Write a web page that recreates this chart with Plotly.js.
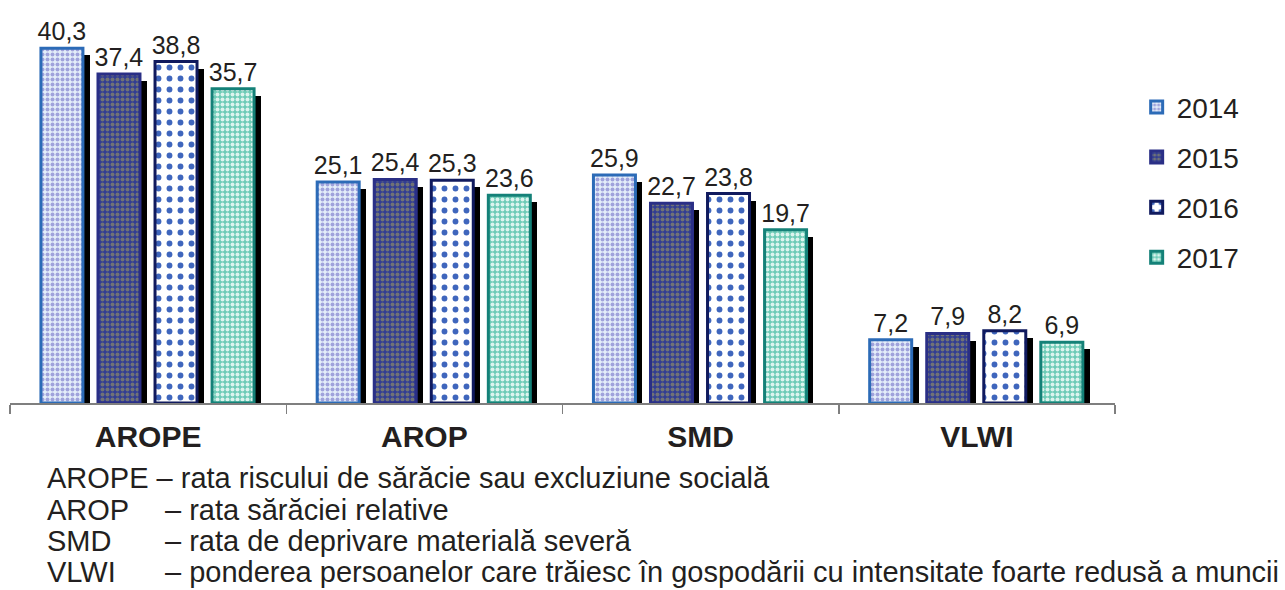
<!DOCTYPE html>
<html>
<head>
<meta charset="utf-8">
<script src="https://cdn.plot.ly/plotly-3.0.1.min.js"></script>
<style>
  body { margin: 0; background: #fff; }
  #chart { width: 1285px; height: 590px; }
</style>
</head>
<body>
<div id="chart"></div>
<script>
var categories = ['AROPE', 'AROP', 'SMD', 'VLWI'];
var years = ['2014', '2015', '2016', '2017'];
var v2014 = [40.3, 25.1, 25.9, 7.2];
var v2015 = [37.4, 25.4, 22.7, 7.9];
var v2016 = [38.8, 25.3, 23.8, 8.2];
var v2017 = [35.7, 23.6, 19.7, 6.9];
var notes = [
    ['AROPE', '– rata riscului de sărăcie sau excluziune socială'],
    ['AROP', '– rata sărăciei relative'],
    ['SMD', '– rata de deprivare materială severă'],
    ['VLWI', '– ponderea persoanelor care trăiesc în gospodării cu intensitate foarte redusă a muncii']
];

var series = [v2014, v2015, v2016, v2017];
var styles = [
    { bg: '#e4eefa', fg: '#a0a3dc', shape: '.', size: 5, solid: 0.5, line: '#2c6bb7' },
    { bg: '#323d92', fg: '#707276', shape: '.', size: 5, solid: 0.5, line: '#2a2f86' },
    { bg: '#ffffff', fg: '#3f66bd', shape: '.', size: 11, solid: 0.22, line: '#101a5e' },
    { bg: '#6ccbb6', fg: '#dcf4ee', shape: '.', size: 5, solid: 0.5, line: '#148178' }
];
var barW = 0.152;
var step = 0.2065;
var firstOffset = -0.388;
var shadowShift = 0.025;
var shadowDrop = 0.8;

var traces = [];
// black drop shadows behind the bars
series.forEach(function(vals, i) {
    traces.push({
        type: 'bar',
        x: categories,
        y: vals.map(function(v) { return v - shadowDrop; }),
        width: barW,
        offset: firstOffset + i * step + shadowShift,
        marker: { color: '#000000', line: { width: 0 } },
        showlegend: false,
        hoverinfo: 'skip'
    });
});
series.forEach(function(vals, i) {
    var s = styles[i];
    traces.push({
        type: 'bar',
        name: years[i],
        legendgroup: years[i],
        x: categories,
        y: vals,
        width: barW,
        offset: firstOffset + i * step,
        text: vals.map(function(v) { return v.toFixed(1).replace('.', ','); }),
        textposition: 'outside',
        constraintext: 'none',
        cliponaxis: false,
        textfont: { family: 'Liberation Sans, Arial', size: 25, color: '#231f20' },
        marker: {
            color: s.bg,
            pattern: { shape: s.shape, fgcolor: s.fg, bgcolor: s.bg, size: s.size, solidity: s.solid },
            line: { color: s.line, width: 3 }
        }
    });
});

var rowY = [478, 510, 541, 572];
var annotations = [];
notes.forEach(function(n, i) {
    var yy = (403 - rowY[i]) / 396;
    if (i === 0) {
        annotations.push({ text: n[0] + ' ' + n[1], x: 35 / 1105, y: yy });
    } else {
        annotations.push({ text: n[0], x: 35 / 1105, y: yy });
        annotations.push({ text: n[1], x: 153 / 1105, y: yy });
    }
});
annotations = annotations.map(function(a) {
    return {
        text: a.text, x: a.x, y: a.y, xref: 'paper', yref: 'paper',
        xanchor: 'left', yanchor: 'middle', showarrow: false,
        font: { family: 'Liberation Sans, Arial', size: 29, color: '#231f20' }
    };
});

var layout = {
    width: 1285,
    height: 590,
    margin: { l: 10, r: 170, t: 7, b: 187 },
    barmode: 'overlay',
    bargap: 0,
    paper_bgcolor: '#ffffff',
    plot_bgcolor: '#ffffff',
    font: { family: 'Liberation Sans, Arial', color: '#231f20' },
    xaxis: {
        type: 'category',
        showline: true,
        linecolor: '#7f7f7f',
        linewidth: 1.5,
        ticks: 'outside',
        tickson: 'boundaries',
        ticklen: 9,
        tickcolor: '#7f7f7f',
        tickwidth: 1.5,
        ticklabelstandoff: 6,
        showgrid: false,
        tickfont: { family: 'Liberation Sans, Arial', size: 30, color: '#231f20', weight: 'bold' }
    },
    yaxis: {
        range: [0, 45],
        visible: false,
        showgrid: false,
        zeroline: false
    },
    legend: {
        x: 1.0196,
        xanchor: 'left',
        y: 0.81,
        yanchor: 'top',
        font: { family: 'Liberation Sans, Arial', size: 28, color: '#231f20' },
        tracegroupgap: 10.7,
        itemwidth: 30,
        bgcolor: 'rgba(0,0,0,0)'
    },
    annotations: annotations
};

Plotly.newPlot('chart', traces, layout, { displayModeBar: false, staticPlot: true });
</script>
</body>
</html>
